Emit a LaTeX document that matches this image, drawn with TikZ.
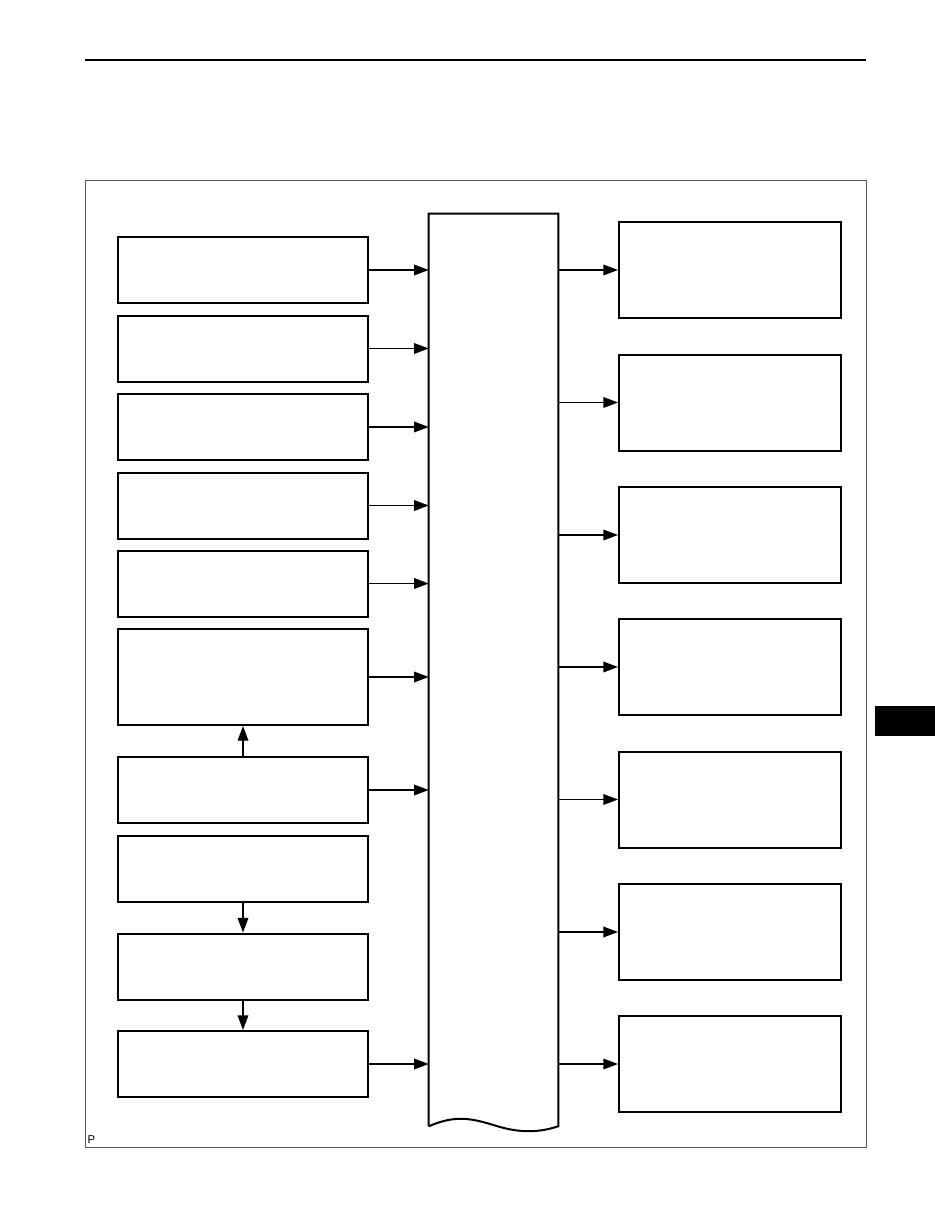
\documentclass[tikz,border=0pt]{standalone}
\usepackage{fontspec}
\setsansfont{Liberation Sans}
\usepackage{tikz}
\usetikzlibrary{arrows.meta,positioning,calc}
\begin{document}
\begin{tikzpicture}[x=0.75pt,y=-0.75pt,
  lbox/.style={draw,line width=1.5pt,minimum width=187.5pt,inner sep=0pt},
  rbox/.style={draw,line width=1.5pt,minimum width=166.5pt,minimum height=72pt,inner sep=0pt},
  sig/.style={line width=1pt,-{Triangle[length=11pt,width=8pt]}}]
\useasboundingbox (0,0) rectangle (935,1210);
\draw[line width=1.5pt] (85,60) -- (866,60);
\draw[gray!70!black, line width=0.75pt] (85,180) rectangle (866,1147);
\fill[black] (875,706) rectangle (935,736);

% left column
\foreach \n/\y/\h in {1/270/49.5, 2/348.5/49.5, 3/427/49.5, 4/505.5/49.5,
  5/583.5/49.5, 6/677/72, 7/790/49.5, 8/868.5/49.5, 9/966.5/49.5, 10/1064/49.5}
{
\node[lbox, minimum height=\h pt] (b\n) at (243,\y) {};
}

% centre unit, open wavy bottom
\node[minimum width=96.75pt, minimum height=684pt, inner sep=0pt] (ecu) at (493.5,670) {};
\draw[line width=1.5pt] (ecu.south west) -- (ecu.north west) -- (ecu.north east) -- (ecu.south east)
  .. controls (535,1134) and (515,1132) .. (493.5,1125)
  .. controls (470,1118) and (455,1115) .. (ecu.south west);

% right column
\foreach \n/\y in {1/270, 2/402.5, 3/535, 4/667, 5/799.5, 6/932, 7/1064}
{
\node[rbox] (r\n) at (730,\y) {};
\draw[sig] (ecu.east |- r\n.west) -- (r\n.west);
}

\foreach \n in {1,...,7,10}
{
\draw[sig] (b\n.east) -- (b\n.east -| ecu.west);
}
\draw[sig] (b7.north) -- (b6.south);
\draw[sig] (b8.south) -- (b9.north);
\draw[sig] (b9.south) -- (b10.north);

\node[font=\sffamily\fontsize{8.5}{9}\selectfont, anchor=south west, inner sep=1pt] (pmark) at (86,1145) {P};
\end{tikzpicture}
\end{document}
